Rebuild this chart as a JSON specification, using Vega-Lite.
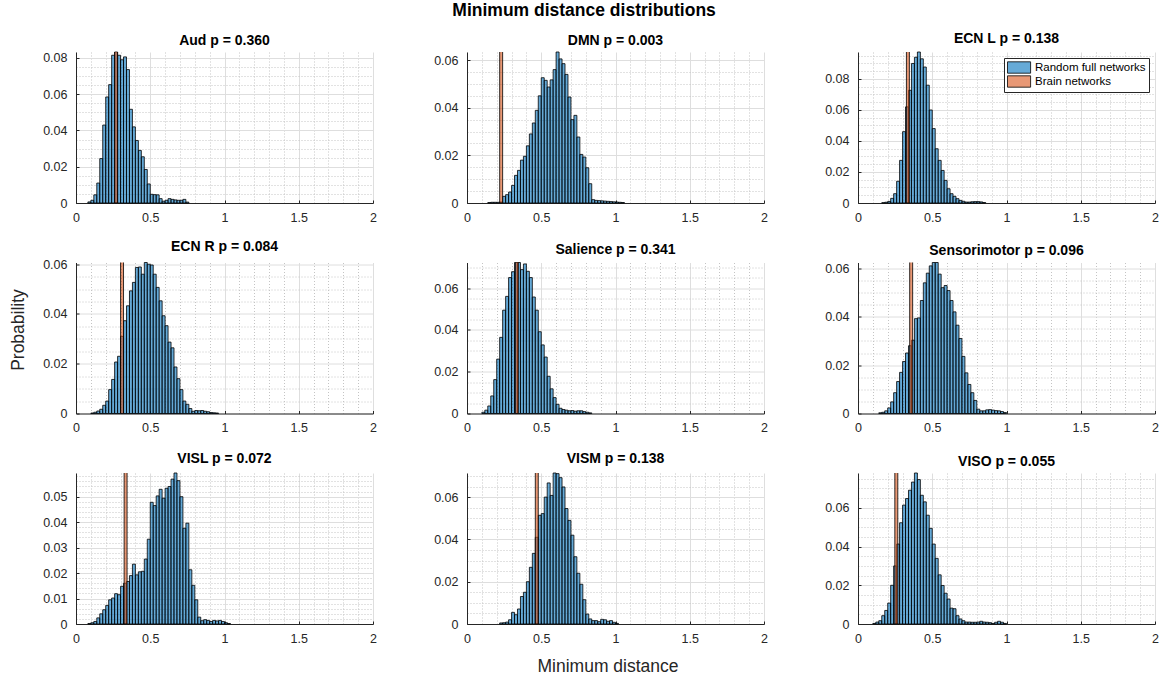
{
  "$schema": "https://vega.github.io/schema/vega-lite/v6.json",
  "padding": {"left": 9, "top": 2, "right": 0, "bottom": 0},
  "title": {"text": "Minimum distance distributions", "fontSize": 17.5, "offset": 12, "anchor": "middle"},
  "datasets": {
    "brain": [
      {"net": "Aud", "lo": 0.26, "hi": 0.28, "p": 1},
      {"net": "DMN", "lo": 0.22, "hi": 0.24, "p": 1},
      {"net": "ECN_L", "lo": 0.326, "hi": 0.346, "p": 1},
      {"net": "ECN_R", "lo": 0.30, "hi": 0.32, "p": 1},
      {"net": "Salience", "lo": 0.326, "hi": 0.346, "p": 1},
      {"net": "Sensorimotor", "lo": 0.348, "hi": 0.368, "p": 1},
      {"net": "VISL", "lo": 0.324, "hi": 0.344, "p": 1},
      {"net": "VISM", "lo": 0.46, "hi": 0.48, "p": 1},
      {"net": "VISO", "lo": 0.248, "hi": 0.268, "p": 1}
    ],
    "Aud": [
      {"lo":0.08,"hi":0.10,"p":0.0006},{"lo":0.10,"hi":0.12,"p":0.0015},{"lo":0.12,"hi":0.14,"p":0.0045},{"lo":0.14,"hi":0.16,"p":0.011},
      {"lo":0.16,"hi":0.18,"p":0.0245},{"lo":0.18,"hi":0.20,"p":0.043},{"lo":0.20,"hi":0.22,"p":0.0585},{"lo":0.22,"hi":0.24,"p":0.0653},
      {"lo":0.24,"hi":0.26,"p":0.0815},{"lo":0.26,"hi":0.28,"p":0.0833},{"lo":0.28,"hi":0.30,"p":0.0815},{"lo":0.30,"hi":0.32,"p":0.079},
      {"lo":0.32,"hi":0.34,"p":0.0806},{"lo":0.34,"hi":0.36,"p":0.0736},{"lo":0.36,"hi":0.38,"p":0.0517},{"lo":0.38,"hi":0.40,"p":0.042},
      {"lo":0.40,"hi":0.42,"p":0.0345},{"lo":0.42,"hi":0.44,"p":0.029},{"lo":0.44,"hi":0.46,"p":0.0255},{"lo":0.46,"hi":0.48,"p":0.0185},
      {"lo":0.48,"hi":0.50,"p":0.0105},{"lo":0.50,"hi":0.52,"p":0.0048},{"lo":0.52,"hi":0.54,"p":0.0046},{"lo":0.54,"hi":0.56,"p":0.0045},
      {"lo":0.56,"hi":0.58,"p":0.0024},{"lo":0.58,"hi":0.60,"p":0.001},{"lo":0.60,"hi":0.62,"p":0.0015},{"lo":0.62,"hi":0.64,"p":0.0024},
      {"lo":0.64,"hi":0.66,"p":0.002},{"lo":0.66,"hi":0.68,"p":0.0017},{"lo":0.68,"hi":0.70,"p":0.0015},{"lo":0.70,"hi":0.72,"p":0.0015},
      {"lo":0.72,"hi":0.74,"p":0.002},{"lo":0.74,"hi":0.76,"p":0.0005}
    ],
    "DMN": [
      {"lo":0.14,"hi":0.16,"p":0.0002},{"lo":0.16,"hi":0.18,"p":0.0003},{"lo":0.18,"hi":0.20,"p":0.0003},{"lo":0.20,"hi":0.22,"p":0.0003},
      {"lo":0.22,"hi":0.24,"p":0.0004},{"lo":0.24,"hi":0.26,"p":0.0028},{"lo":0.26,"hi":0.28,"p":0.0035},{"lo":0.28,"hi":0.30,"p":0.0046},
      {"lo":0.30,"hi":0.32,"p":0.0074},{"lo":0.32,"hi":0.34,"p":0.0116},{"lo":0.34,"hi":0.36,"p":0.0137},{"lo":0.36,"hi":0.38,"p":0.018},
      {"lo":0.38,"hi":0.40,"p":0.0196},{"lo":0.40,"hi":0.42,"p":0.024},{"lo":0.42,"hi":0.44,"p":0.029},{"lo":0.44,"hi":0.46,"p":0.0336},
      {"lo":0.46,"hi":0.48,"p":0.0389},{"lo":0.48,"hi":0.50,"p":0.045},{"lo":0.50,"hi":0.52,"p":0.0526},{"lo":0.52,"hi":0.54,"p":0.0515},
      {"lo":0.54,"hi":0.56,"p":0.0487},{"lo":0.56,"hi":0.58,"p":0.0517},{"lo":0.58,"hi":0.60,"p":0.056},{"lo":0.60,"hi":0.62,"p":0.0634},
      {"lo":0.62,"hi":0.64,"p":0.0605},{"lo":0.64,"hi":0.66,"p":0.0585},{"lo":0.66,"hi":0.68,"p":0.054},{"lo":0.68,"hi":0.70,"p":0.0445},
      {"lo":0.70,"hi":0.72,"p":0.035},{"lo":0.72,"hi":0.74,"p":0.0368},{"lo":0.74,"hi":0.76,"p":0.0277},{"lo":0.76,"hi":0.78,"p":0.0204},
      {"lo":0.78,"hi":0.80,"p":0.0193},{"lo":0.80,"hi":0.82,"p":0.0148},{"lo":0.82,"hi":0.84,"p":0.0081},{"lo":0.84,"hi":0.86,"p":0.0014},
      {"lo":0.86,"hi":0.88,"p":0.0011},{"lo":0.88,"hi":0.90,"p":0.001},{"lo":0.90,"hi":0.92,"p":0.0009},{"lo":0.92,"hi":0.94,"p":0.0008},
      {"lo":0.94,"hi":0.96,"p":0.0007},{"lo":0.96,"hi":0.98,"p":0.0006},{"lo":0.98,"hi":1.00,"p":0.0005},{"lo":1.00,"hi":1.02,"p":0.0004},
      {"lo":1.02,"hi":1.04,"p":0.0003},{"lo":1.04,"hi":1.06,"p":0.0002}
    ],
    "ECN_L": [
      {"lo":0.16,"hi":0.18,"p":0.0002},{"lo":0.18,"hi":0.20,"p":0.0005},{"lo":0.20,"hi":0.22,"p":0.001},{"lo":0.22,"hi":0.24,"p":0.003},
      {"lo":0.24,"hi":0.26,"p":0.006},{"lo":0.26,"hi":0.28,"p":0.014},{"lo":0.28,"hi":0.30,"p":0.0275},{"lo":0.30,"hi":0.32,"p":0.046},
      {"lo":0.32,"hi":0.34,"p":0.062},{"lo":0.34,"hi":0.36,"p":0.0727},{"lo":0.36,"hi":0.38,"p":0.09},{"lo":0.38,"hi":0.40,"p":0.094},
      {"lo":0.40,"hi":0.42,"p":0.0974},{"lo":0.42,"hi":0.44,"p":0.093},{"lo":0.44,"hi":0.46,"p":0.0877},{"lo":0.46,"hi":0.48,"p":0.076},
      {"lo":0.48,"hi":0.50,"p":0.06},{"lo":0.50,"hi":0.52,"p":0.048},{"lo":0.52,"hi":0.54,"p":0.035},{"lo":0.54,"hi":0.56,"p":0.0275},
      {"lo":0.56,"hi":0.58,"p":0.021},{"lo":0.58,"hi":0.60,"p":0.0146},{"lo":0.60,"hi":0.62,"p":0.0092},{"lo":0.62,"hi":0.64,"p":0.006},
      {"lo":0.64,"hi":0.66,"p":0.0043},{"lo":0.66,"hi":0.68,"p":0.0028},{"lo":0.68,"hi":0.70,"p":0.0017},{"lo":0.70,"hi":0.72,"p":0.0011},
      {"lo":0.72,"hi":0.74,"p":0.0006},{"lo":0.74,"hi":0.76,"p":0.0006},{"lo":0.76,"hi":0.78,"p":0.0008},{"lo":0.78,"hi":0.80,"p":0.0009},
      {"lo":0.80,"hi":0.82,"p":0.0009},{"lo":0.82,"hi":0.84,"p":0.0007},{"lo":0.84,"hi":0.86,"p":0.0003}
    ],
    "ECN_R": [
      {"lo":0.10,"hi":0.12,"p":0.0002},{"lo":0.12,"hi":0.14,"p":0.0005},{"lo":0.14,"hi":0.16,"p":0.001},{"lo":0.16,"hi":0.18,"p":0.0017},
      {"lo":0.18,"hi":0.20,"p":0.0033},{"lo":0.20,"hi":0.22,"p":0.005},{"lo":0.22,"hi":0.24,"p":0.0096},{"lo":0.24,"hi":0.26,"p":0.0137},
      {"lo":0.26,"hi":0.28,"p":0.0207},{"lo":0.28,"hi":0.30,"p":0.023},{"lo":0.30,"hi":0.32,"p":0.031},{"lo":0.32,"hi":0.34,"p":0.0373},
      {"lo":0.34,"hi":0.36,"p":0.0433},{"lo":0.36,"hi":0.38,"p":0.0493},{"lo":0.38,"hi":0.40,"p":0.0527},{"lo":0.40,"hi":0.42,"p":0.0587},
      {"lo":0.42,"hi":0.44,"p":0.0589},{"lo":0.44,"hi":0.46,"p":0.056},{"lo":0.46,"hi":0.48,"p":0.0607},{"lo":0.48,"hi":0.50,"p":0.06},
      {"lo":0.50,"hi":0.52,"p":0.0597},{"lo":0.52,"hi":0.54,"p":0.056},{"lo":0.54,"hi":0.56,"p":0.0507},{"lo":0.56,"hi":0.58,"p":0.0453},
      {"lo":0.58,"hi":0.60,"p":0.0393},{"lo":0.60,"hi":0.62,"p":0.0353},{"lo":0.62,"hi":0.64,"p":0.0287},{"lo":0.64,"hi":0.66,"p":0.0264},
      {"lo":0.66,"hi":0.68,"p":0.0187},{"lo":0.68,"hi":0.70,"p":0.014},{"lo":0.70,"hi":0.72,"p":0.0096},{"lo":0.72,"hi":0.74,"p":0.005},
      {"lo":0.74,"hi":0.76,"p":0.0037},{"lo":0.76,"hi":0.78,"p":0.002},{"lo":0.78,"hi":0.80,"p":0.0009},{"lo":0.80,"hi":0.82,"p":0.0012},
      {"lo":0.82,"hi":0.84,"p":0.0011},{"lo":0.84,"hi":0.86,"p":0.0012},{"lo":0.86,"hi":0.88,"p":0.0009},{"lo":0.88,"hi":0.90,"p":0.0007},
      {"lo":0.90,"hi":0.92,"p":0.0004},{"lo":0.92,"hi":0.94,"p":0.0003},{"lo":0.94,"hi":0.96,"p":0.0002}
    ],
    "Salience": [
      {"lo":0.10,"hi":0.12,"p":0.0006},{"lo":0.12,"hi":0.14,"p":0.0016},{"lo":0.14,"hi":0.16,"p":0.0036},{"lo":0.16,"hi":0.18,"p":0.0084},
      {"lo":0.18,"hi":0.20,"p":0.0162},{"lo":0.20,"hi":0.22,"p":0.026},{"lo":0.22,"hi":0.24,"p":0.0364},{"lo":0.24,"hi":0.26,"p":0.0494},
      {"lo":0.26,"hi":0.28,"p":0.056},{"lo":0.28,"hi":0.30,"p":0.065},{"lo":0.30,"hi":0.32,"p":0.0678},{"lo":0.32,"hi":0.34,"p":0.0722},
      {"lo":0.34,"hi":0.36,"p":0.0722},{"lo":0.36,"hi":0.38,"p":0.0688},{"lo":0.38,"hi":0.40,"p":0.0715},{"lo":0.40,"hi":0.42,"p":0.068},
      {"lo":0.42,"hi":0.44,"p":0.065},{"lo":0.44,"hi":0.46,"p":0.0557},{"lo":0.46,"hi":0.48,"p":0.0494},{"lo":0.48,"hi":0.50,"p":0.0391},
      {"lo":0.50,"hi":0.52,"p":0.0328},{"lo":0.52,"hi":0.54,"p":0.027},{"lo":0.54,"hi":0.56,"p":0.0178},{"lo":0.56,"hi":0.58,"p":0.0118},
      {"lo":0.58,"hi":0.60,"p":0.0076},{"lo":0.60,"hi":0.62,"p":0.0044},{"lo":0.62,"hi":0.64,"p":0.0025},{"lo":0.64,"hi":0.66,"p":0.0019},
      {"lo":0.66,"hi":0.68,"p":0.0016},{"lo":0.68,"hi":0.70,"p":0.0013},{"lo":0.70,"hi":0.72,"p":0.0014},{"lo":0.72,"hi":0.74,"p":0.0011},
      {"lo":0.74,"hi":0.76,"p":0.0013},{"lo":0.76,"hi":0.78,"p":0.0013},{"lo":0.78,"hi":0.80,"p":0.0009},{"lo":0.80,"hi":0.82,"p":0.0006},
      {"lo":0.82,"hi":0.84,"p":0.0003}
    ],
    "Sensorimotor": [
      {"lo":0.14,"hi":0.16,"p":0.0003},{"lo":0.16,"hi":0.18,"p":0.0005},{"lo":0.18,"hi":0.20,"p":0.0011},{"lo":0.20,"hi":0.22,"p":0.0023},
      {"lo":0.22,"hi":0.24,"p":0.0048},{"lo":0.24,"hi":0.26,"p":0.0086},{"lo":0.26,"hi":0.28,"p":0.0132},{"lo":0.28,"hi":0.30,"p":0.017},
      {"lo":0.30,"hi":0.32,"p":0.0215},{"lo":0.32,"hi":0.34,"p":0.025},{"lo":0.34,"hi":0.36,"p":0.028},{"lo":0.36,"hi":0.38,"p":0.0303},
      {"lo":0.38,"hi":0.40,"p":0.0392},{"lo":0.40,"hi":0.42,"p":0.0395},{"lo":0.42,"hi":0.44,"p":0.0467},{"lo":0.44,"hi":0.46,"p":0.054},
      {"lo":0.46,"hi":0.48,"p":0.058},{"lo":0.48,"hi":0.50,"p":0.061},{"lo":0.50,"hi":0.52,"p":0.0624},{"lo":0.52,"hi":0.54,"p":0.0624},
      {"lo":0.54,"hi":0.56,"p":0.0576},{"lo":0.56,"hi":0.58,"p":0.052},{"lo":0.58,"hi":0.60,"p":0.0529},{"lo":0.60,"hi":0.62,"p":0.0508},
      {"lo":0.62,"hi":0.64,"p":0.0467},{"lo":0.64,"hi":0.66,"p":0.042},{"lo":0.66,"hi":0.68,"p":0.0365},{"lo":0.68,"hi":0.70,"p":0.031},
      {"lo":0.70,"hi":0.72,"p":0.0236},{"lo":0.72,"hi":0.74,"p":0.0168},{"lo":0.74,"hi":0.76,"p":0.012},{"lo":0.76,"hi":0.78,"p":0.0086},
      {"lo":0.78,"hi":0.80,"p":0.0054},{"lo":0.80,"hi":0.82,"p":0.0018},{"lo":0.82,"hi":0.84,"p":0.0011},{"lo":0.84,"hi":0.86,"p":0.0011},
      {"lo":0.86,"hi":0.88,"p":0.0015},{"lo":0.88,"hi":0.90,"p":0.0016},{"lo":0.90,"hi":0.92,"p":0.0014},{"lo":0.92,"hi":0.94,"p":0.0012},
      {"lo":0.94,"hi":0.96,"p":0.0011},{"lo":0.96,"hi":0.98,"p":0.0008},{"lo":0.98,"hi":1.00,"p":0.0004}
    ],
    "VISL": [
      {"lo":0.08,"hi":0.10,"p":0.0002},{"lo":0.10,"hi":0.12,"p":0.0005},{"lo":0.12,"hi":0.14,"p":0.001},{"lo":0.14,"hi":0.16,"p":0.0024},
      {"lo":0.16,"hi":0.18,"p":0.004},{"lo":0.18,"hi":0.20,"p":0.0056},{"lo":0.20,"hi":0.22,"p":0.0073},{"lo":0.22,"hi":0.24,"p":0.0095},
      {"lo":0.24,"hi":0.26,"p":0.0102},{"lo":0.26,"hi":0.28,"p":0.0119},{"lo":0.28,"hi":0.30,"p":0.0115},{"lo":0.30,"hi":0.32,"p":0.0148},
      {"lo":0.32,"hi":0.34,"p":0.016},{"lo":0.34,"hi":0.36,"p":0.0167},{"lo":0.36,"hi":0.38,"p":0.019},{"lo":0.38,"hi":0.40,"p":0.0235},
      {"lo":0.40,"hi":0.42,"p":0.0193},{"lo":0.42,"hi":0.44,"p":0.0205},{"lo":0.44,"hi":0.46,"p":0.0207},{"lo":0.46,"hi":0.48,"p":0.0255},
      {"lo":0.48,"hi":0.50,"p":0.0333},{"lo":0.50,"hi":0.52,"p":0.0478},{"lo":0.52,"hi":0.54,"p":0.0465},{"lo":0.54,"hi":0.56,"p":0.0503},
      {"lo":0.56,"hi":0.58,"p":0.0529},{"lo":0.58,"hi":0.60,"p":0.0494},{"lo":0.60,"hi":0.62,"p":0.0533},{"lo":0.62,"hi":0.64,"p":0.054},
      {"lo":0.64,"hi":0.66,"p":0.0569},{"lo":0.66,"hi":0.68,"p":0.0593},{"lo":0.68,"hi":0.70,"p":0.0563},{"lo":0.70,"hi":0.72,"p":0.05},
      {"lo":0.72,"hi":0.74,"p":0.0376},{"lo":0.74,"hi":0.76,"p":0.0396},{"lo":0.76,"hi":0.78,"p":0.0213},{"lo":0.78,"hi":0.80,"p":0.0152},
      {"lo":0.80,"hi":0.82,"p":0.0095},{"lo":0.82,"hi":0.84,"p":0.0027},{"lo":0.84,"hi":0.86,"p":0.0013},{"lo":0.86,"hi":0.88,"p":0.0017},
      {"lo":0.88,"hi":0.90,"p":0.0014},{"lo":0.90,"hi":0.92,"p":0.001},{"lo":0.92,"hi":0.94,"p":0.0014},{"lo":0.94,"hi":0.96,"p":0.0012},
      {"lo":0.96,"hi":0.98,"p":0.0014},{"lo":0.98,"hi":1.00,"p":0.001},{"lo":1.00,"hi":1.02,"p":0.0005},{"lo":1.02,"hi":1.04,"p":0.0002}
    ],
    "VISM": [
      {"lo":0.22,"hi":0.24,"p":0.0005},{"lo":0.24,"hi":0.26,"p":0.0006},{"lo":0.26,"hi":0.28,"p":0.0009},{"lo":0.28,"hi":0.30,"p":0.002},
      {"lo":0.30,"hi":0.32,"p":0.0055},{"lo":0.32,"hi":0.34,"p":0.0044},{"lo":0.34,"hi":0.36,"p":0.0071},{"lo":0.36,"hi":0.38,"p":0.013},
      {"lo":0.38,"hi":0.40,"p":0.015},{"lo":0.40,"hi":0.42,"p":0.02},{"lo":0.42,"hi":0.44,"p":0.0268},{"lo":0.44,"hi":0.46,"p":0.0334},
      {"lo":0.46,"hi":0.48,"p":0.041},{"lo":0.48,"hi":0.50,"p":0.0514},{"lo":0.50,"hi":0.52,"p":0.0522},{"lo":0.52,"hi":0.54,"p":0.06},
      {"lo":0.54,"hi":0.56,"p":0.0667},{"lo":0.56,"hi":0.58,"p":0.0608},{"lo":0.58,"hi":0.60,"p":0.0714},{"lo":0.60,"hi":0.62,"p":0.0711},
      {"lo":0.62,"hi":0.64,"p":0.0692},{"lo":0.64,"hi":0.66,"p":0.0648},{"lo":0.66,"hi":0.68,"p":0.0546},{"lo":0.68,"hi":0.70,"p":0.049},
      {"lo":0.70,"hi":0.72,"p":0.042},{"lo":0.72,"hi":0.74,"p":0.0318},{"lo":0.74,"hi":0.76,"p":0.024},{"lo":0.76,"hi":0.78,"p":0.0188},
      {"lo":0.78,"hi":0.80,"p":0.0115},{"lo":0.80,"hi":0.82,"p":0.0047},{"lo":0.82,"hi":0.84,"p":0.0024},{"lo":0.84,"hi":0.86,"p":0.0016},
      {"lo":0.86,"hi":0.88,"p":0.0016},{"lo":0.88,"hi":0.90,"p":0.0011},{"lo":0.90,"hi":0.92,"p":0.0022},{"lo":0.92,"hi":0.94,"p":0.002},
      {"lo":0.94,"hi":0.96,"p":0.0013},{"lo":0.96,"hi":0.98,"p":0.0016},{"lo":0.98,"hi":1.00,"p":0.0008},{"lo":1.00,"hi":1.02,"p":0.0003}
    ],
    "VISO": [
      {"lo":0.10,"hi":0.12,"p":0.0003},{"lo":0.12,"hi":0.14,"p":0.001},{"lo":0.14,"hi":0.16,"p":0.0017},{"lo":0.16,"hi":0.18,"p":0.0043},
      {"lo":0.18,"hi":0.20,"p":0.007},{"lo":0.20,"hi":0.22,"p":0.0108},{"lo":0.22,"hi":0.24,"p":0.02},{"lo":0.24,"hi":0.26,"p":0.03},
      {"lo":0.26,"hi":0.28,"p":0.0413},{"lo":0.28,"hi":0.30,"p":0.0523},{"lo":0.30,"hi":0.32,"p":0.0614},{"lo":0.32,"hi":0.34,"p":0.0648},
      {"lo":0.34,"hi":0.36,"p":0.0691},{"lo":0.36,"hi":0.38,"p":0.0733},{"lo":0.38,"hi":0.40,"p":0.078},{"lo":0.40,"hi":0.42,"p":0.0746},
      {"lo":0.42,"hi":0.44,"p":0.0665},{"lo":0.44,"hi":0.46,"p":0.0631},{"lo":0.46,"hi":0.48,"p":0.0562},{"lo":0.48,"hi":0.50,"p":0.0494},
      {"lo":0.50,"hi":0.52,"p":0.0413},{"lo":0.52,"hi":0.54,"p":0.0339},{"lo":0.54,"hi":0.56,"p":0.0254},{"lo":0.56,"hi":0.58,"p":0.0199},
      {"lo":0.58,"hi":0.60,"p":0.0159},{"lo":0.60,"hi":0.62,"p":0.0129},{"lo":0.62,"hi":0.64,"p":0.0082},{"lo":0.64,"hi":0.66,"p":0.0079},
      {"lo":0.66,"hi":0.68,"p":0.0043},{"lo":0.68,"hi":0.70,"p":0.0026},{"lo":0.70,"hi":0.72,"p":0.0017},{"lo":0.72,"hi":0.74,"p":0.001},
      {"lo":0.74,"hi":0.76,"p":0.001},{"lo":0.76,"hi":0.78,"p":0.0009},{"lo":0.78,"hi":0.80,"p":0.0009},{"lo":0.80,"hi":0.82,"p":0.001},
      {"lo":0.82,"hi":0.84,"p":0.0014},{"lo":0.84,"hi":0.86,"p":0.001},{"lo":0.86,"hi":0.88,"p":0.0009},{"lo":0.88,"hi":0.90,"p":0.0007},
      {"lo":0.90,"hi":0.92,"p":0.0003},{"lo":0.92,"hi":0.94,"p":0.0009},{"lo":0.94,"hi":0.96,"p":0.0014},{"lo":0.96,"hi":0.98,"p":0.0009},
      {"lo":0.98,"hi":1.00,"p":0.0003}
    ]
  },
  "columns": 3,
  "bounds": "flush",
  "spacing": {"row": 59.5, "column": 94},
  "resolve": {"scale": {"x": "independent", "y": "independent", "color": "independent"}, "legend": {"color": "independent"}, "axis": {"x": "independent", "y": "independent"}},
  "concat": [
    {
      "title": "Aud p = 0.360", "width": 297, "height": 151,
      "layer": [
        {"data": {"name": "Aud"},
         "mark": {"type": "rect", "fill": "#0072BD", "fillOpacity": 0.6, "stroke": "black", "strokeWidth": 0.8},
         "encoding": {
           "x": {"field": "lo", "type": "quantitative", "title": null, "scale": {"domain": [0, 2], "nice": false},
                 "axis": {"values": [0,0.1,0.2,0.3,0.4,0.5,0.6,0.7,0.8,0.9,1,1.1,1.2,1.3,1.4,1.5,1.6,1.7,1.8,1.9,2], "tickCount": 100, "labelOverlap": false,
                          "labelExpr": "abs(datum.value*2-round(datum.value*2))<0.001 ? toString(round(datum.value*10)/10) : ''",
                          "gridDash": {"condition": {"test": "abs(datum.value*2-round(datum.value*2))>0.001", "value": [1, 2]}, "value": []},
                          "gridColor": {"condition": {"test": "abs(datum.value*2-round(datum.value*2))>0.001", "value": "#c4c4c4"}, "value": "#dedede"},
                          "tickOpacity": {"condition": {"test": "abs(datum.value*2-round(datum.value*2))>0.001", "value": 0}, "value": 1}}},
           "x2": {"field": "hi"},
           "y": {"field": "p", "type": "quantitative", "title": null, "scale": {"domain": [0, 0.0833], "nice": false},
                 "axis": {"values": [0,0.005,0.01,0.015,0.02,0.025,0.03,0.035,0.04,0.045,0.05,0.055,0.06,0.065,0.07,0.075,0.08], "tickCount": 100, "labelOverlap": false,
                          "labelExpr": "abs(datum.value*50-round(datum.value*50))<0.001 ? toString(round(datum.value*100)/100) : ''",
                          "gridDash": {"condition": {"test": "abs(datum.value*50-round(datum.value*50))>0.001", "value": [1, 2]}, "value": []},
                          "gridColor": {"condition": {"test": "abs(datum.value*50-round(datum.value*50))>0.001", "value": "#c4c4c4"}, "value": "#dedede"},
                          "tickOpacity": {"condition": {"test": "abs(datum.value*50-round(datum.value*50))>0.001", "value": 0}, "value": 1}}},
           "y2": {"datum": 0}
         }},
        {"data": {"name": "brain"}, "transform": [{"filter": "datum.net == 'Aud'"}],
         "mark": {"type": "rect", "fill": "#D95319", "fillOpacity": 0.6, "stroke": "black", "strokeWidth": 0.8, "clip": true},
         "encoding": {"x": {"field": "lo", "type": "quantitative"}, "x2": {"field": "hi"}, "y": {"field": "p", "type": "quantitative"}, "y2": {"datum": 0}}}
      ]
    },
    {
      "title": "DMN p = 0.003", "width": 297, "height": 151,
      "layer": [
        {"data": {"name": "DMN"},
         "mark": {"type": "rect", "fill": "#0072BD", "fillOpacity": 0.6, "stroke": "black", "strokeWidth": 0.8},
         "encoding": {
           "x": {"field": "lo", "type": "quantitative", "title": null, "scale": {"domain": [0, 2], "nice": false},
                 "axis": {"values": [0,0.1,0.2,0.3,0.4,0.5,0.6,0.7,0.8,0.9,1,1.1,1.2,1.3,1.4,1.5,1.6,1.7,1.8,1.9,2], "tickCount": 100, "labelOverlap": false,
                          "labelExpr": "abs(datum.value*2-round(datum.value*2))<0.001 ? toString(round(datum.value*10)/10) : ''",
                          "gridDash": {"condition": {"test": "abs(datum.value*2-round(datum.value*2))>0.001", "value": [1, 2]}, "value": []},
                          "gridColor": {"condition": {"test": "abs(datum.value*2-round(datum.value*2))>0.001", "value": "#c4c4c4"}, "value": "#dedede"},
                          "tickOpacity": {"condition": {"test": "abs(datum.value*2-round(datum.value*2))>0.001", "value": 0}, "value": 1}}},
           "x2": {"field": "hi"},
           "y": {"field": "p", "type": "quantitative", "title": null, "scale": {"domain": [0, 0.0634], "nice": false},
                 "axis": {"values": [0,0.005,0.01,0.015,0.02,0.025,0.03,0.035,0.04,0.045,0.05,0.055,0.06], "tickCount": 100, "labelOverlap": false,
                          "labelExpr": "abs(datum.value*50-round(datum.value*50))<0.001 ? toString(round(datum.value*100)/100) : ''",
                          "gridDash": {"condition": {"test": "abs(datum.value*50-round(datum.value*50))>0.001", "value": [1, 2]}, "value": []},
                          "gridColor": {"condition": {"test": "abs(datum.value*50-round(datum.value*50))>0.001", "value": "#c4c4c4"}, "value": "#dedede"},
                          "tickOpacity": {"condition": {"test": "abs(datum.value*50-round(datum.value*50))>0.001", "value": 0}, "value": 1}}},
           "y2": {"datum": 0}
         }},
        {"data": {"name": "brain"}, "transform": [{"filter": "datum.net == 'DMN'"}],
         "mark": {"type": "rect", "fill": "#D95319", "fillOpacity": 0.6, "stroke": "black", "strokeWidth": 0.8, "clip": true},
         "encoding": {"x": {"field": "lo", "type": "quantitative"}, "x2": {"field": "hi"}, "y": {"field": "p", "type": "quantitative"}, "y2": {"datum": 0}}}
      ]
    },
    {
      "title": "ECN L p = 0.138", "width": 297, "height": 151,
      "layer": [
        {"data": {"name": "ECN_L"},
         "mark": {"type": "rect", "fillOpacity": 0.6, "stroke": "black", "strokeWidth": 0.8},
         "encoding": {
           "x": {"field": "lo", "type": "quantitative", "title": null, "scale": {"domain": [0, 2], "nice": false},
                 "axis": {"values": [0,0.1,0.2,0.3,0.4,0.5,0.6,0.7,0.8,0.9,1,1.1,1.2,1.3,1.4,1.5,1.6,1.7,1.8,1.9,2], "tickCount": 100, "labelOverlap": false,
                          "labelExpr": "abs(datum.value*2-round(datum.value*2))<0.001 ? toString(round(datum.value*10)/10) : ''",
                          "gridDash": {"condition": {"test": "abs(datum.value*2-round(datum.value*2))>0.001", "value": [1, 2]}, "value": []},
                          "gridColor": {"condition": {"test": "abs(datum.value*2-round(datum.value*2))>0.001", "value": "#c4c4c4"}, "value": "#dedede"},
                          "tickOpacity": {"condition": {"test": "abs(datum.value*2-round(datum.value*2))>0.001", "value": 0}, "value": 1}}},
           "x2": {"field": "hi"},
           "y": {"field": "p", "type": "quantitative", "title": null, "scale": {"domain": [0, 0.0974], "nice": false},
                 "axis": {"values": [0,0.005,0.01,0.015,0.02,0.025,0.03,0.035,0.04,0.045,0.05,0.055,0.06,0.065,0.07,0.075,0.08,0.085,0.09,0.095], "tickCount": 100, "labelOverlap": false,
                          "labelExpr": "abs(datum.value*50-round(datum.value*50))<0.001 ? toString(round(datum.value*100)/100) : ''",
                          "gridDash": {"condition": {"test": "abs(datum.value*50-round(datum.value*50))>0.001", "value": [1, 2]}, "value": []},
                          "gridColor": {"condition": {"test": "abs(datum.value*50-round(datum.value*50))>0.001", "value": "#c4c4c4"}, "value": "#dedede"},
                          "tickOpacity": {"condition": {"test": "abs(datum.value*50-round(datum.value*50))>0.001", "value": 0}, "value": 1}}},
           "y2": {"datum": 0},
           "color": {"datum": "Random full networks", "type": "nominal",
                     "scale": {"domain": ["Random full networks", "Brain networks"], "range": ["#0072BD", "#D95319"]},
                     "legend": {"title": null, "orient": "top-right", "offset": 6, "fillColor": "white", "strokeColor": "#262626",
                                "padding": 3, "rowPadding": -2, "labelFontSize": 11.5, "labelColor": "black", "labelOffset": 15,
                                "symbolType": "M-1,-0.95H2.85V0.95H-1Z", "symbolSize": 144, "symbolStrokeColor": "black", "symbolStrokeWidth": 0.8,
                                "encode": {"symbols": {"update": {"fillOpacity": {"value": 0.6}, "strokeOpacity": {"value": 1}}}}}}
         }},
        {"data": {"name": "brain"}, "transform": [{"filter": "datum.net == 'ECN_L'"}],
         "mark": {"type": "rect", "fillOpacity": 0.6, "stroke": "black", "strokeWidth": 0.8, "clip": true},
         "encoding": {"x": {"field": "lo", "type": "quantitative"}, "x2": {"field": "hi"}, "y": {"field": "p", "type": "quantitative"}, "y2": {"datum": 0},
                      "color": {"datum": "Brain networks", "type": "nominal"}}}
      ]
    },
    {
      "title": "ECN R p = 0.084", "width": 297, "height": 151,
      "layer": [
        {"data": {"name": "ECN_R"},
         "mark": {"type": "rect", "fill": "#0072BD", "fillOpacity": 0.6, "stroke": "black", "strokeWidth": 0.8},
         "encoding": {
           "x": {"field": "lo", "type": "quantitative", "title": null, "scale": {"domain": [0, 2], "nice": false},
                 "axis": {"values": [0,0.1,0.2,0.3,0.4,0.5,0.6,0.7,0.8,0.9,1,1.1,1.2,1.3,1.4,1.5,1.6,1.7,1.8,1.9,2], "tickCount": 100, "labelOverlap": false,
                          "labelExpr": "abs(datum.value*2-round(datum.value*2))<0.001 ? toString(round(datum.value*10)/10) : ''",
                          "gridDash": {"condition": {"test": "abs(datum.value*2-round(datum.value*2))>0.001", "value": [1, 2]}, "value": []},
                          "gridColor": {"condition": {"test": "abs(datum.value*2-round(datum.value*2))>0.001", "value": "#c4c4c4"}, "value": "#dedede"},
                          "tickOpacity": {"condition": {"test": "abs(datum.value*2-round(datum.value*2))>0.001", "value": 0}, "value": 1}}},
           "x2": {"field": "hi"},
           "y": {"field": "p", "type": "quantitative", "title": "Probability", "scale": {"domain": [0, 0.0607], "nice": false},
                 "axis": {"values": [0,0.005,0.01,0.015,0.02,0.025,0.03,0.035,0.04,0.045,0.05,0.055,0.06], "tickCount": 100, "labelOverlap": false,
                          "titleFontSize": 17.5, "titleFontWeight": "normal", "titleColor": "#262626", "titlePadding": 15, "titleY": 67,
                          "labelExpr": "abs(datum.value*50-round(datum.value*50))<0.001 ? toString(round(datum.value*100)/100) : ''",
                          "gridDash": {"condition": {"test": "abs(datum.value*50-round(datum.value*50))>0.001", "value": [1, 2]}, "value": []},
                          "gridColor": {"condition": {"test": "abs(datum.value*50-round(datum.value*50))>0.001", "value": "#c4c4c4"}, "value": "#dedede"},
                          "tickOpacity": {"condition": {"test": "abs(datum.value*50-round(datum.value*50))>0.001", "value": 0}, "value": 1}}},
           "y2": {"datum": 0}
         }},
        {"data": {"name": "brain"}, "transform": [{"filter": "datum.net == 'ECN_R'"}],
         "mark": {"type": "rect", "fill": "#D95319", "fillOpacity": 0.6, "stroke": "black", "strokeWidth": 0.8, "clip": true},
         "encoding": {"x": {"field": "lo", "type": "quantitative"}, "x2": {"field": "hi"}, "y": {"field": "p", "type": "quantitative"}, "y2": {"datum": 0}}}
      ]
    },
    {
      "title": "Salience p = 0.341", "width": 297, "height": 151,
      "layer": [
        {"data": {"name": "Salience"},
         "mark": {"type": "rect", "fill": "#0072BD", "fillOpacity": 0.6, "stroke": "black", "strokeWidth": 0.8},
         "encoding": {
           "x": {"field": "lo", "type": "quantitative", "title": null, "scale": {"domain": [0, 2], "nice": false},
                 "axis": {"values": [0,0.1,0.2,0.3,0.4,0.5,0.6,0.7,0.8,0.9,1,1.1,1.2,1.3,1.4,1.5,1.6,1.7,1.8,1.9,2], "tickCount": 100, "labelOverlap": false,
                          "labelExpr": "abs(datum.value*2-round(datum.value*2))<0.001 ? toString(round(datum.value*10)/10) : ''",
                          "gridDash": {"condition": {"test": "abs(datum.value*2-round(datum.value*2))>0.001", "value": [1, 2]}, "value": []},
                          "gridColor": {"condition": {"test": "abs(datum.value*2-round(datum.value*2))>0.001", "value": "#c4c4c4"}, "value": "#dedede"},
                          "tickOpacity": {"condition": {"test": "abs(datum.value*2-round(datum.value*2))>0.001", "value": 0}, "value": 1}}},
           "x2": {"field": "hi"},
           "y": {"field": "p", "type": "quantitative", "title": null, "scale": {"domain": [0, 0.0722], "nice": false},
                 "axis": {"values": [0,0.005,0.01,0.015,0.02,0.025,0.03,0.035,0.04,0.045,0.05,0.055,0.06,0.065,0.07], "tickCount": 100, "labelOverlap": false,
                          "labelExpr": "abs(datum.value*50-round(datum.value*50))<0.001 ? toString(round(datum.value*100)/100) : ''",
                          "gridDash": {"condition": {"test": "abs(datum.value*50-round(datum.value*50))>0.001", "value": [1, 2]}, "value": []},
                          "gridColor": {"condition": {"test": "abs(datum.value*50-round(datum.value*50))>0.001", "value": "#c4c4c4"}, "value": "#dedede"},
                          "tickOpacity": {"condition": {"test": "abs(datum.value*50-round(datum.value*50))>0.001", "value": 0}, "value": 1}}},
           "y2": {"datum": 0}
         }},
        {"data": {"name": "brain"}, "transform": [{"filter": "datum.net == 'Salience'"}],
         "mark": {"type": "rect", "fill": "#D95319", "fillOpacity": 0.6, "stroke": "black", "strokeWidth": 0.8, "clip": true},
         "encoding": {"x": {"field": "lo", "type": "quantitative"}, "x2": {"field": "hi"}, "y": {"field": "p", "type": "quantitative"}, "y2": {"datum": 0}}}
      ]
    },
    {
      "title": "Sensorimotor p = 0.096", "width": 297, "height": 151,
      "layer": [
        {"data": {"name": "Sensorimotor"},
         "mark": {"type": "rect", "fill": "#0072BD", "fillOpacity": 0.6, "stroke": "black", "strokeWidth": 0.8},
         "encoding": {
           "x": {"field": "lo", "type": "quantitative", "title": null, "scale": {"domain": [0, 2], "nice": false},
                 "axis": {"values": [0,0.1,0.2,0.3,0.4,0.5,0.6,0.7,0.8,0.9,1,1.1,1.2,1.3,1.4,1.5,1.6,1.7,1.8,1.9,2], "tickCount": 100, "labelOverlap": false,
                          "labelExpr": "abs(datum.value*2-round(datum.value*2))<0.001 ? toString(round(datum.value*10)/10) : ''",
                          "gridDash": {"condition": {"test": "abs(datum.value*2-round(datum.value*2))>0.001", "value": [1, 2]}, "value": []},
                          "gridColor": {"condition": {"test": "abs(datum.value*2-round(datum.value*2))>0.001", "value": "#c4c4c4"}, "value": "#dedede"},
                          "tickOpacity": {"condition": {"test": "abs(datum.value*2-round(datum.value*2))>0.001", "value": 0}, "value": 1}}},
           "x2": {"field": "hi"},
           "y": {"field": "p", "type": "quantitative", "title": null, "scale": {"domain": [0, 0.0624], "nice": false},
                 "axis": {"values": [0,0.005,0.01,0.015,0.02,0.025,0.03,0.035,0.04,0.045,0.05,0.055,0.06], "tickCount": 100, "labelOverlap": false,
                          "labelExpr": "abs(datum.value*50-round(datum.value*50))<0.001 ? toString(round(datum.value*100)/100) : ''",
                          "gridDash": {"condition": {"test": "abs(datum.value*50-round(datum.value*50))>0.001", "value": [1, 2]}, "value": []},
                          "gridColor": {"condition": {"test": "abs(datum.value*50-round(datum.value*50))>0.001", "value": "#c4c4c4"}, "value": "#dedede"},
                          "tickOpacity": {"condition": {"test": "abs(datum.value*50-round(datum.value*50))>0.001", "value": 0}, "value": 1}}},
           "y2": {"datum": 0}
         }},
        {"data": {"name": "brain"}, "transform": [{"filter": "datum.net == 'Sensorimotor'"}],
         "mark": {"type": "rect", "fill": "#D95319", "fillOpacity": 0.6, "stroke": "black", "strokeWidth": 0.8, "clip": true},
         "encoding": {"x": {"field": "lo", "type": "quantitative"}, "x2": {"field": "hi"}, "y": {"field": "p", "type": "quantitative"}, "y2": {"datum": 0}}}
      ]
    },
    {
      "title": "VISL p = 0.072", "width": 297, "height": 151,
      "layer": [
        {"data": {"name": "VISL"},
         "mark": {"type": "rect", "fill": "#0072BD", "fillOpacity": 0.6, "stroke": "black", "strokeWidth": 0.8},
         "encoding": {
           "x": {"field": "lo", "type": "quantitative", "title": null, "scale": {"domain": [0, 2], "nice": false},
                 "axis": {"values": [0,0.1,0.2,0.3,0.4,0.5,0.6,0.7,0.8,0.9,1,1.1,1.2,1.3,1.4,1.5,1.6,1.7,1.8,1.9,2], "tickCount": 100, "labelOverlap": false,
                          "labelExpr": "abs(datum.value*2-round(datum.value*2))<0.001 ? toString(round(datum.value*10)/10) : ''",
                          "gridDash": {"condition": {"test": "abs(datum.value*2-round(datum.value*2))>0.001", "value": [1, 2]}, "value": []},
                          "gridColor": {"condition": {"test": "abs(datum.value*2-round(datum.value*2))>0.001", "value": "#c4c4c4"}, "value": "#dedede"},
                          "tickOpacity": {"condition": {"test": "abs(datum.value*2-round(datum.value*2))>0.001", "value": 0}, "value": 1}}},
           "x2": {"field": "hi"},
           "y": {"field": "p", "type": "quantitative", "title": null, "scale": {"domain": [0, 0.0593], "nice": false},
                 "axis": {"values": [0,0.002,0.004,0.006,0.008,0.01,0.012,0.014,0.016,0.018,0.02,0.022,0.024,0.026,0.028,0.03,0.032,0.034,0.036,0.038,0.04,0.042,0.044,0.046,0.048,0.05,0.052,0.054,0.056,0.058], "tickCount": 100, "labelOverlap": false,
                          "labelExpr": "abs(datum.value*100-round(datum.value*100))<0.001 ? toString(round(datum.value*100)/100) : ''",
                          "gridDash": {"condition": {"test": "abs(datum.value*100-round(datum.value*100))>0.001", "value": [1, 2]}, "value": []},
                          "gridColor": {"condition": {"test": "abs(datum.value*100-round(datum.value*100))>0.001", "value": "#c4c4c4"}, "value": "#dedede"},
                          "tickOpacity": {"condition": {"test": "abs(datum.value*100-round(datum.value*100))>0.001", "value": 0}, "value": 1}}},
           "y2": {"datum": 0}
         }},
        {"data": {"name": "brain"}, "transform": [{"filter": "datum.net == 'VISL'"}],
         "mark": {"type": "rect", "fill": "#D95319", "fillOpacity": 0.6, "stroke": "black", "strokeWidth": 0.8, "clip": true},
         "encoding": {"x": {"field": "lo", "type": "quantitative"}, "x2": {"field": "hi"}, "y": {"field": "p", "type": "quantitative"}, "y2": {"datum": 0}}}
      ]
    },
    {
      "title": "VISM p = 0.138", "width": 297, "height": 151,
      "layer": [
        {"data": {"name": "VISM"},
         "mark": {"type": "rect", "fill": "#0072BD", "fillOpacity": 0.6, "stroke": "black", "strokeWidth": 0.8},
         "encoding": {
           "x": {"field": "lo", "type": "quantitative", "title": "Minimum distance", "scale": {"domain": [0, 2], "nice": false},
                 "axis": {"values": [0,0.1,0.2,0.3,0.4,0.5,0.6,0.7,0.8,0.9,1,1.1,1.2,1.3,1.4,1.5,1.6,1.7,1.8,1.9,2], "tickCount": 100, "labelOverlap": false,
                          "titleFontSize": 17.5, "titleFontWeight": "normal", "titleColor": "#262626", "titlePadding": 13, "titleX": 140.5,
                          "labelExpr": "abs(datum.value*2-round(datum.value*2))<0.001 ? toString(round(datum.value*10)/10) : ''",
                          "gridDash": {"condition": {"test": "abs(datum.value*2-round(datum.value*2))>0.001", "value": [1, 2]}, "value": []},
                          "gridColor": {"condition": {"test": "abs(datum.value*2-round(datum.value*2))>0.001", "value": "#c4c4c4"}, "value": "#dedede"},
                          "tickOpacity": {"condition": {"test": "abs(datum.value*2-round(datum.value*2))>0.001", "value": 0}, "value": 1}}},
           "x2": {"field": "hi"},
           "y": {"field": "p", "type": "quantitative", "title": null, "scale": {"domain": [0, 0.0714], "nice": false},
                 "axis": {"values": [0,0.005,0.01,0.015,0.02,0.025,0.03,0.035,0.04,0.045,0.05,0.055,0.06,0.065,0.07], "tickCount": 100, "labelOverlap": false,
                          "labelExpr": "abs(datum.value*50-round(datum.value*50))<0.001 ? toString(round(datum.value*100)/100) : ''",
                          "gridDash": {"condition": {"test": "abs(datum.value*50-round(datum.value*50))>0.001", "value": [1, 2]}, "value": []},
                          "gridColor": {"condition": {"test": "abs(datum.value*50-round(datum.value*50))>0.001", "value": "#c4c4c4"}, "value": "#dedede"},
                          "tickOpacity": {"condition": {"test": "abs(datum.value*50-round(datum.value*50))>0.001", "value": 0}, "value": 1}}},
           "y2": {"datum": 0}
         }},
        {"data": {"name": "brain"}, "transform": [{"filter": "datum.net == 'VISM'"}],
         "mark": {"type": "rect", "fill": "#D95319", "fillOpacity": 0.6, "stroke": "black", "strokeWidth": 0.8, "clip": true},
         "encoding": {"x": {"field": "lo", "type": "quantitative"}, "x2": {"field": "hi"}, "y": {"field": "p", "type": "quantitative"}, "y2": {"datum": 0}}}
      ]
    },
    {
      "title": "VISO p = 0.055", "width": 297, "height": 151,
      "layer": [
        {"data": {"name": "VISO"},
         "mark": {"type": "rect", "fill": "#0072BD", "fillOpacity": 0.6, "stroke": "black", "strokeWidth": 0.8},
         "encoding": {
           "x": {"field": "lo", "type": "quantitative", "title": null, "scale": {"domain": [0, 2], "nice": false},
                 "axis": {"values": [0,0.1,0.2,0.3,0.4,0.5,0.6,0.7,0.8,0.9,1,1.1,1.2,1.3,1.4,1.5,1.6,1.7,1.8,1.9,2], "tickCount": 100, "labelOverlap": false,
                          "labelExpr": "abs(datum.value*2-round(datum.value*2))<0.001 ? toString(round(datum.value*10)/10) : ''",
                          "gridDash": {"condition": {"test": "abs(datum.value*2-round(datum.value*2))>0.001", "value": [1, 2]}, "value": []},
                          "gridColor": {"condition": {"test": "abs(datum.value*2-round(datum.value*2))>0.001", "value": "#c4c4c4"}, "value": "#dedede"},
                          "tickOpacity": {"condition": {"test": "abs(datum.value*2-round(datum.value*2))>0.001", "value": 0}, "value": 1}}},
           "x2": {"field": "hi"},
           "y": {"field": "p", "type": "quantitative", "title": null, "scale": {"domain": [0, 0.078], "nice": false},
                 "axis": {"values": [0,0.005,0.01,0.015,0.02,0.025,0.03,0.035,0.04,0.045,0.05,0.055,0.06,0.065,0.07,0.075], "tickCount": 100, "labelOverlap": false,
                          "labelExpr": "abs(datum.value*50-round(datum.value*50))<0.001 ? toString(round(datum.value*100)/100) : ''",
                          "gridDash": {"condition": {"test": "abs(datum.value*50-round(datum.value*50))>0.001", "value": [1, 2]}, "value": []},
                          "gridColor": {"condition": {"test": "abs(datum.value*50-round(datum.value*50))>0.001", "value": "#c4c4c4"}, "value": "#dedede"},
                          "tickOpacity": {"condition": {"test": "abs(datum.value*50-round(datum.value*50))>0.001", "value": 0}, "value": 1}}},
           "y2": {"datum": 0}
         }},
        {"data": {"name": "brain"}, "transform": [{"filter": "datum.net == 'VISO'"}],
         "mark": {"type": "rect", "fill": "#D95319", "fillOpacity": 0.6, "stroke": "black", "strokeWidth": 0.8, "clip": true},
         "encoding": {"x": {"field": "lo", "type": "quantitative"}, "x2": {"field": "hi"}, "y": {"field": "p", "type": "quantitative"}, "y2": {"datum": 0}}}
      ]
    }
  ],
  "config": {
    "font": "Liberation Sans",
    "view": {"stroke": null},
    "background": "white",
    "title": {"fontSize": 14, "fontWeight": "bold", "color": "black", "offset": 4, "font": "Liberation Sans"},
    "axis": {"domainColor": "#262626", "domainWidth": 1, "labelColor": "#262626", "labelFontSize": 12.5, "labelFont": "Liberation Sans",
             "tickColor": "#262626", "tickSize": -3, "tickWidth": 1, "labelOverlap": false, "labelFlush": false, "labelBound": false,
             "gridWidth": 1, "titleFont": "Liberation Sans"},
    "axisX": {"labelPadding": 11},
    "axisY": {"labelPadding": 12},
    "legend": {"labelFont": "Liberation Sans"}
  }
}
